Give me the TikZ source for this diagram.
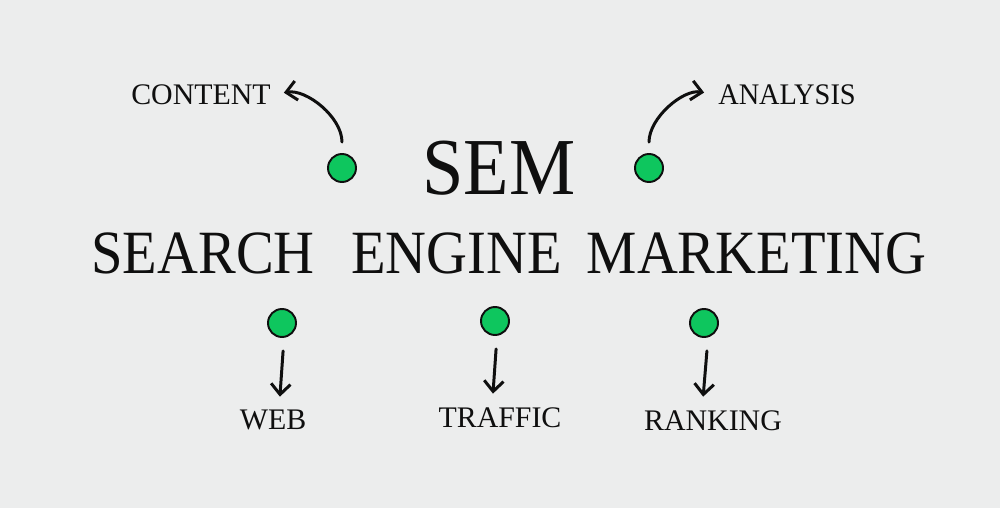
\documentclass[tikz,border=0pt]{standalone}
\usepackage{fontspec}
\setmainfont{Liberation Serif}
\usepackage{tikz}
\usetikzlibrary{arrows.meta,positioning}
\definecolor{SemGreen}{RGB}{14,198,94}
\definecolor{PaperGray}{RGB}{236,237,237}
\definecolor{InkBlack}{RGB}{15,15,15}
\newcommand{\narrowtext}[1]{\scalebox{0.92}[1]{#1}}

\begin{document}
\begin{tikzpicture}[
  dot/.style={circle,draw=InkBlack,line width=1.1pt,fill=SemGreen,minimum size=0.56cm,inner sep=0pt},
  word/.style={inner sep=0pt,text=InkBlack,font=\fontsize{35}{35}\selectfont},
  label/.style={inner sep=0pt,text=InkBlack,font=\fontsize{17}{17}\selectfont},
  arr/.style={-{Straight Barb[length=6pt,width=11pt]},line width=1.7pt,InkBlack,line cap=round}
]
\fill[PaperGray] (0,0) rectangle (20,-10.16);
\useasboundingbox (0,0) rectangle (20,-10.16);
\node[word,font=\fontsize{46}{46}\selectfont] (sem) at (9.98,-3.36) {\narrowtext{SEM}};
\node[word] (search) at (4.06,-5.06) {\narrowtext{SEARCH}};
\node[word] (engine) at (9.13,-5.06) {\narrowtext{ENGINE}};
\node[word] (marketing) at (15.13,-5.06) {\narrowtext{MARKETING}};
\node[dot] (dotL) at (6.84,-3.36) {};
\node[dot] (dotR) at (12.98,-3.36) {};
\node[dot] (dotW) at (5.64,-6.46) {};
\node[dot] (dotT) at (9.90,-6.42) {};
\node[dot] (dotK) at (14.08,-6.46) {};
\node[label] (content) at (4.02,-1.90) {CONTENT};
\node[label] (analysis) at (15.74,-1.90) {\scalebox{0.95}[1]{ANALYSIS}};
\node[label] (web) at (5.46,-8.40) {WEB};
\node[label] (traffic) at (10.00,-8.36) {TRAFFIC};
\node[label] (ranking) at (14.26,-8.42) {RANKING};
\draw[arr,shorten <=0.22cm,shorten >=0.26cm] (dotL.north) to[out=90,in=10] (content.east);
\draw[arr,shorten <=0.22cm,shorten >=0.28cm] (dotR.north) to[out=90,in=170] (analysis.west);
\draw[arr,shorten <=0.26cm,shorten >=0.26cm] ([xshift=0.04cm]dotW.south) -- ([xshift=0.12cm]web.north);
\draw[arr,shorten <=0.26cm,shorten >=0.28cm] ([xshift=0.04cm]dotT.south) -- ([xshift=-0.16cm]traffic.north);
\draw[arr,shorten <=0.26cm,shorten >=0.28cm] ([xshift=0.08cm]dotK.south) -- ([xshift=-0.22cm]ranking.north);
\end{tikzpicture}
\end{document}
